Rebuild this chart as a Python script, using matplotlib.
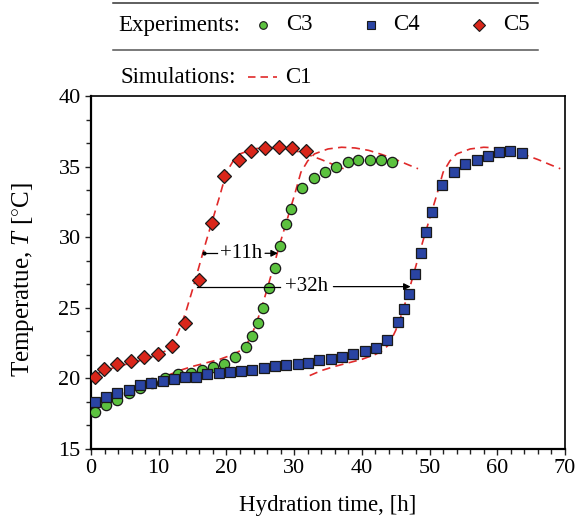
import matplotlib
matplotlib.use("Agg")
import matplotlib.pyplot as plt
from matplotlib.ticker import MultipleLocator, AutoMinorLocator

plt.rcParams['font.family'] = ['Liberation Serif', 'DejaVu Serif']
plt.rcParams['mathtext.fontset'] = 'custom'
plt.rcParams['mathtext.it'] = 'Liberation Serif:italic'
plt.rcParams['mathtext.rm'] = 'Liberation Serif'

# ================== DATA ==================
# C5 (diamonds)
t_c5 = [0.6, 1.9, 3.9, 5.9, 7.9, 9.9, 11.9, 13.9, 15.9, 17.8, 19.7, 21.9,
        23.7, 25.7, 27.8, 29.7, 31.8]
T_c5 = [20.1, 20.7, 21.0, 21.2, 21.5, 21.7, 22.3, 23.9, 27.0, 31.0, 34.3,
        35.5, 36.1, 36.3, 36.4, 36.3, 36.1]

# C3 (circles)
t_c3 = [0.6, 2.2, 3.9, 5.6, 7.2, 9.0, 10.9, 12.9, 14.7, 16.4, 18.0, 19.6,
        21.3, 22.9, 23.8, 24.7, 25.4, 26.3, 27.2, 27.9, 28.8, 29.5, 31.2,
        32.9, 34.6, 36.2, 37.9, 39.5, 41.2, 42.8, 44.5]
T_c3 = [17.6, 18.1, 18.5, 19.0, 19.3, 19.7, 20.0, 20.3, 20.4, 20.6, 20.8,
        21.0, 21.5, 22.2, 23.0, 23.9, 25.0, 26.4, 27.8, 29.4, 30.9, 32.0,
        33.5, 34.2, 34.6, 35.0, 35.3, 35.5, 35.5, 35.5, 35.3]

# C4 (squares)
t_c4 = [0.6, 2.2, 3.9, 5.6, 7.2, 8.9, 10.6, 12.3, 13.9, 15.5, 17.2, 18.9,
        20.5, 22.2, 23.8, 25.5, 27.2, 28.8, 30.5, 32.1, 33.7, 35.4, 37.0,
        38.7, 40.4, 42.1, 43.7, 45.3, 46.2, 47.0, 47.8, 48.7, 49.5, 50.3,
        51.9, 53.6, 55.3, 57.0, 58.6, 60.2, 61.9, 63.6]
T_c4 = [18.35, 18.7, 18.95, 19.2, 19.5, 19.7, 19.85, 19.95, 20.1, 20.1,
        20.3, 20.35, 20.45, 20.5, 20.6, 20.75, 20.85, 20.95, 21.05, 21.1,
        21.3, 21.35, 21.55, 21.7, 21.95, 22.15, 22.7, 24.0, 24.9, 26.0,
        27.4, 28.9, 30.4, 31.8, 33.7, 34.6, 35.2, 35.5, 35.75, 36.0, 36.1,
        35.95]

# simulation C1 (same curve, shifted in time)
t_sim = [0.3, 2, 4, 6, 8, 10, 11, 12, 13, 14, 15, 16, 17, 18, 19, 20, 21,
         22, 24, 26, 28, 30, 32, 34, 36, 37.3]
T_sim = [20.2, 20.55, 20.85, 21.1, 21.35, 21.7, 21.95, 22.4, 23.4, 24.7,
         26.3, 28.0, 29.7, 31.3, 32.9, 34.6, 35.4, 35.9, 36.25, 36.37,
         36.32, 36.15, 35.85, 35.5, 35.1, 34.85]
sim_shifts = [0, 11, 32]

GREEN = "#5cc23f"
BLUE = "#2a44a3"
RED = "#d9261a"
DASH_RED = "#e02a2a"

W, H = 578, 519
fig = plt.figure(figsize=(W / 100, H / 100), dpi=100)

# main axes (pixel box 91..565 x 96..449)
ax = fig.add_axes([91 / W, 1 - 449 / H, (565 - 91) / W, (449 - 96) / H])

for s in sim_shifts:
    ax.plot([t + s for t in t_sim], T_sim, color=DASH_RED, lw=1.2,
            dashes=(5, 3.2), zorder=2)

mk = dict(linestyle="none", markeredgecolor="#1a1a1a", markeredgewidth=0.9)
ax.plot(t_c3, T_c3, marker="o", ms=7.4, markerfacecolor=GREEN, zorder=3, **mk)
ax.plot(t_c4, T_c4, marker="s", ms=7.3, markerfacecolor=BLUE, zorder=4, **mk)
ax.plot(t_c5, T_c5, marker="D", ms=7.3, markerfacecolor=RED, zorder=5, **mk)

# shift annotations
ax.plot([16.7], [28.86], marker="o", ms=2, color="k", zorder=6)
ax.plot([16.7, 18.6], [28.86, 28.86], color="k", lw=0.9, zorder=6)
ax.text(22.1, 28.86, "+11h", ha="center", va="center", fontsize=15, zorder=6)
ax.annotate("", xy=(27.6, 28.86), xytext=(25.7, 28.86),
            arrowprops=dict(arrowstyle="-|>", color="k", lw=0.9,
                            mutation_scale=10, shrinkA=0, shrinkB=0), zorder=6)

ax.plot([15.7, 27.9], [26.5, 26.5], color="k", lw=0.9, zorder=6)
ax.text(31.85, 26.5, "+32h", ha="center", va="center", fontsize=15, zorder=6)
ax.annotate("", xy=(47.2, 26.5), xytext=(35.8, 26.5),
            arrowprops=dict(arrowstyle="-|>", color="k", lw=0.9,
                            mutation_scale=10, shrinkA=0, shrinkB=0), zorder=6)

ax.set_xlim(0, 70)
ax.set_ylim(15, 40)
ax.xaxis.set_major_locator(MultipleLocator(10))
ax.xaxis.set_minor_locator(MultipleLocator(2))
ax.yaxis.set_major_locator(MultipleLocator(5))
ax.yaxis.set_minor_locator(AutoMinorLocator(3))
ax.tick_params(which="both", direction="out", labelsize=16, width=1,
               top=False, right=False, color="#222")
ax.tick_params(which="major", length=4.5, pad=3)
ax.tick_params(which="minor", length=3.3)
for side in ["left", "bottom"]:
    ax.spines[side].set_linewidth(1.6)
for side in ["top", "right"]:
    ax.spines[side].set_linewidth(1.2)

ax.set_xlabel("Hydration time, [h]", fontsize=16.5, labelpad=12)
ax.set_ylabel(r"Temperatue, $T$ [$^{\circ}$C]", fontsize=18)
ax.yaxis.set_label_coords(-0.117, 0.48)

# legend block on top (pixel coordinates)
lg = fig.add_axes([0, 1 - 92 / H, 1, 92 / H])
lg.set_xlim(0, W)
lg.set_ylim(92, 0)
lg.axis("off")
lg.plot([113, 538], [3, 3], color="#333", lw=1.1)
lg.plot([113, 538], [50, 50], color="#555", lw=1.1)
lg.text(118, 25, "Experiments:", fontsize=16.5, va="center", ha="left")
lg.plot([263], [25], marker="o", ms=5.5, markerfacecolor=GREEN,
        markeredgecolor="#1a1a1a", markeredgewidth=0.8)
lg.text(286, 25, "C3", fontsize=16.5, va="center", ha="left")
lg.plot([371], [25], marker="s", ms=5.8, markerfacecolor=BLUE,
        markeredgecolor="#1a1a1a", markeredgewidth=0.8)
lg.text(393, 25, "C4", fontsize=16.5, va="center", ha="left")
lg.plot([479], [25], marker="D", ms=5.8, markerfacecolor=RED,
        markeredgecolor="#1a1a1a", markeredgewidth=0.8)
lg.text(503, 25, "C5", fontsize=16.5, va="center", ha="left")
lg.text(121, 77, "Simulations:", fontsize=16.5, va="center", ha="left")
lg.plot([248, 277], [77, 77], color=DASH_RED, lw=1.2, dashes=(4.5, 3))
lg.text(285, 77, "C1", fontsize=16.5, va="center", ha="left")

fig.savefig("out.png", dpi=100)
